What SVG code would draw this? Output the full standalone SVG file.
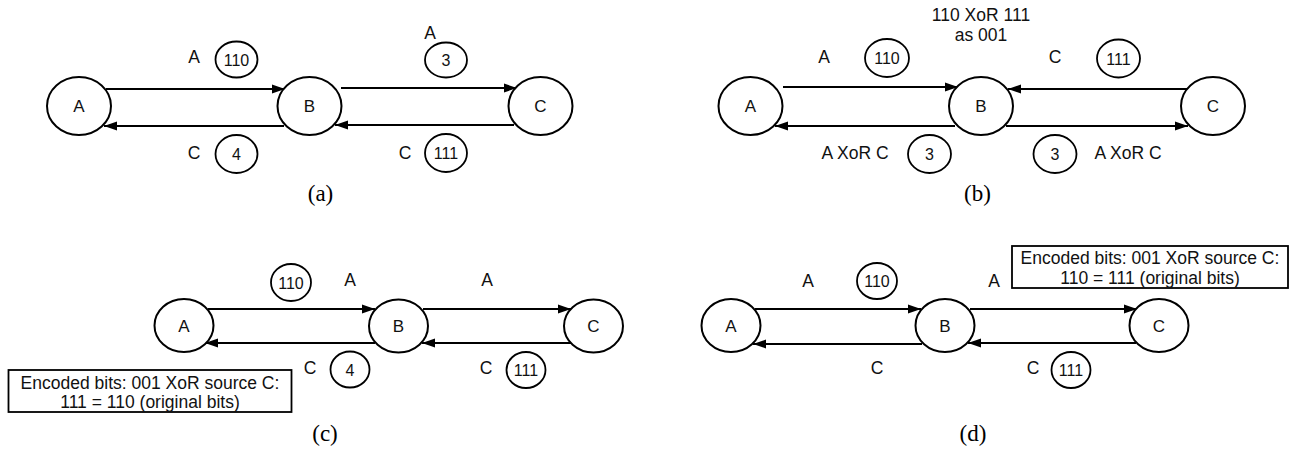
<svg xmlns="http://www.w3.org/2000/svg" width="1295" height="450" viewBox="0 0 1295 450">
<defs>
<marker id="ah" markerUnits="userSpaceOnUse" markerWidth="14" markerHeight="10" refX="13" refY="5" orient="auto">
<path d="M0,0.5 L13,5 L0,9.5 z" fill="#000"/>
</marker>
<style>
.n{fill:#fff;stroke:#000;stroke-width:2}
.s{fill:#fff;stroke:#000;stroke-width:1.8}
.t{font-family:"Liberation Sans",Arial,sans-serif;font-size:17.5px;fill:#111;text-anchor:middle}
.nt{font-family:"Liberation Sans",Arial,sans-serif;font-size:17px;fill:#111;text-anchor:middle}
.ct{font-family:"Liberation Sans",Arial,sans-serif;font-size:16px;fill:#111;text-anchor:middle}
.cap{font-family:"Liberation Serif","Times New Roman",serif;font-size:23px;fill:#000;text-anchor:middle}
.e{stroke:#000;stroke-width:2;fill:none;marker-end:url(#ah)}
.box{fill:#fff;stroke:#000;stroke-width:1.8}
</style>
</defs>
<rect width="1295" height="450" fill="#fff"/>

<g id="connectors">
<line class="e" x1="106" y1="89" x2="285" y2="89"/>
<line class="e" x1="284" y1="126" x2="104" y2="126"/>
<line class="e" x1="341" y1="88" x2="517" y2="88"/>
<line class="e" x1="514" y1="125" x2="335" y2="125"/>
<line class="e" x1="783" y1="87" x2="958" y2="87"/>
<line class="e" x1="955" y1="126" x2="775" y2="126"/>
<line class="e" x1="1187" y1="89" x2="1008" y2="89"/>
<line class="e" x1="1006" y1="126" x2="1188" y2="126"/>
<line class="e" x1="208" y1="309" x2="375" y2="309"/>
<line class="e" x1="375" y1="343" x2="205" y2="343"/>
<line class="e" x1="423" y1="309" x2="571" y2="309"/>
<line class="e" x1="571" y1="343" x2="422" y2="343"/>
<line class="e" x1="755" y1="309" x2="921" y2="309"/>
<line class="e" x1="922" y1="344" x2="753" y2="344"/>
<line class="e" x1="970" y1="309" x2="1137" y2="309"/>
<line class="e" x1="1136" y1="343" x2="968" y2="343"/>
</g>

<g id="a-A"><ellipse class="n" cx="79" cy="106" rx="32" ry="29"/><text class="nt" x="79" y="112">A</text></g>
<g id="a-B"><ellipse class="n" cx="309.5" cy="106" rx="32" ry="29"/><text class="nt" x="309.5" y="112">B</text></g>
<g id="a-C"><ellipse class="n" cx="540.5" cy="106" rx="32" ry="29"/><text class="nt" x="540.5" y="112">C</text></g>
<g id="a-l1"><text class="t" x="194" y="63">A</text><ellipse class="s" cx="236.5" cy="59.5" rx="21" ry="18"/><text class="ct" x="236.5" y="65.5">110</text></g>
<g id="a-l2"><text class="t" x="194" y="159">C</text><ellipse class="s" cx="236.5" cy="154" rx="21" ry="19"/><text class="ct" x="236.5" y="160">4</text></g>
<g id="a-l3"><text class="t" x="430" y="39">A</text><ellipse class="s" cx="446" cy="60" rx="21" ry="17.5"/><text class="ct" x="446" y="66">3</text></g>
<g id="a-l4"><text class="t" x="405" y="159">C</text><ellipse class="s" cx="446" cy="153" rx="21" ry="19"/><text class="ct" x="446" y="159">111</text></g>
<text class="cap" x="320.5" y="201">(a)</text>

<g id="b-A"><ellipse class="n" cx="750.5" cy="106" rx="32" ry="29"/><text class="nt" x="750.5" y="112">A</text></g>
<g id="b-B"><ellipse class="n" cx="981" cy="106" rx="32" ry="29"/><text class="nt" x="981" y="112">B</text></g>
<g id="b-C"><ellipse class="n" cx="1213" cy="106" rx="32" ry="29"/><text class="nt" x="1213" y="112">C</text></g>
<g id="b-note"><text class="t" x="981" y="21">110 XoR 111</text><text class="t" x="981" y="41">as 001</text></g>
<g id="b-l1"><text class="t" x="824" y="63">A</text><ellipse class="s" cx="887" cy="58" rx="22" ry="19"/><text class="ct" x="887" y="64">110</text></g>
<g id="b-l2"><text class="t" x="1055" y="63">C</text><ellipse class="s" cx="1118.5" cy="58.5" rx="21.5" ry="19"/><text class="ct" x="1118.5" y="64.5">111</text></g>
<g id="b-l3"><text class="t" x="855" y="159">A XoR C</text><ellipse class="s" cx="929.5" cy="154" rx="21.5" ry="19"/><text class="ct" x="929.5" y="160">3</text></g>
<g id="b-l4"><ellipse class="s" cx="1055" cy="154" rx="21.5" ry="19"/><text class="ct" x="1055" y="160">3</text><text class="t" x="1128" y="159">A XoR C</text></g>
<text class="cap" x="977.5" y="201">(b)</text>

<g id="c-A"><ellipse class="n" cx="184" cy="325.5" rx="29.5" ry="26.5"/><text class="nt" x="184" y="331.5">A</text></g>
<g id="c-B"><ellipse class="n" cx="398.5" cy="326" rx="29.5" ry="26.5"/><text class="nt" x="398.5" y="332">B</text></g>
<g id="c-C"><ellipse class="n" cx="593.5" cy="326" rx="29.5" ry="26.5"/><text class="nt" x="593.5" y="332">C</text></g>
<g id="c-l1"><ellipse class="s" cx="291" cy="282.5" rx="20" ry="18.5"/><text class="ct" x="291" y="288.5">110</text><text class="t" x="350" y="286">A</text></g>
<g id="c-l2"><text class="t" x="487" y="286">A</text></g>
<g id="c-l3"><text class="t" x="310" y="374">C</text><ellipse class="s" cx="350" cy="369.5" rx="19.5" ry="18"/><text class="ct" x="350" y="375.5">4</text></g>
<g id="c-l4"><text class="t" x="486" y="374">C</text><ellipse class="s" cx="526" cy="370" rx="19.5" ry="18"/><text class="ct" x="526" y="376">111</text></g>
<g id="c-box"><rect class="box" x="8.5" y="370" width="283" height="42"/><text class="t" x="150" y="389">Encoded bits: 001 XoR source C:</text><text class="t" x="150" y="408">111 = 110 (original bits)</text></g>
<text class="cap" x="325" y="441">(c)</text>

<g id="d-A"><ellipse class="n" cx="731" cy="325.5" rx="29.5" ry="26.5"/><text class="nt" x="731" y="331.5">A</text></g>
<g id="d-B"><ellipse class="n" cx="945" cy="325.5" rx="29.5" ry="26.5"/><text class="nt" x="945" y="331.5">B</text></g>
<g id="d-C"><ellipse class="n" cx="1159" cy="325.5" rx="29.5" ry="26.5"/><text class="nt" x="1159" y="331.5">C</text></g>
<g id="d-l1"><text class="t" x="808" y="287">A</text><ellipse class="s" cx="877" cy="281" rx="20" ry="18"/><text class="ct" x="877" y="287">110</text></g>
<g id="d-l2"><text class="t" x="994" y="287">A</text></g>
<g id="d-l3"><text class="t" x="877" y="374">C</text></g>
<g id="d-l4"><text class="t" x="1033" y="374">C</text><ellipse class="s" cx="1071" cy="370" rx="19.5" ry="18"/><text class="ct" x="1071" y="376">111</text></g>
<g id="d-box"><rect class="box" x="1012" y="246" width="276" height="42"/><text class="t" x="1150" y="264">Encoded bits: 001 XoR source C:</text><text class="t" x="1150" y="284">110 = 111 (original bits)</text></g>
<text class="cap" x="973" y="441">(d)</text>
</svg>
